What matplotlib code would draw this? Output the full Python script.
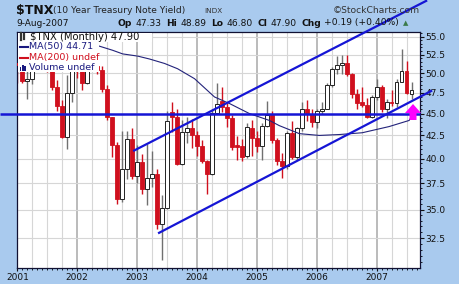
import numpy as np
import matplotlib.pyplot as plt
from matplotlib.lines import Line2D
from matplotlib.patches import Polygon, Rectangle
from matplotlib.ticker import NullFormatter

# monthly candles, Jan 2001 .. Aug 2007 ($TNX = yield x 10)
opens = [51.3, 51.1, 49.0, 49.2, 53.5, 53.8, 54.1, 50.5, 48.3, 45.9, 42.3, 47.5,
         50.5, 50.3, 48.8, 54.0, 50.9, 50.4, 48.0, 44.6, 41.4, 36.0, 38.9, 42.1,
         38.2, 39.6, 36.9, 38.0, 38.4, 33.7, 35.2, 45.2, 44.6, 39.4, 42.9, 43.3,
         42.5, 41.3, 39.7, 38.4, 45.1, 46.5, 45.8, 44.5, 41.5, 41.3, 40.3, 43.3,
         42.2, 41.3, 43.6, 44.8, 42.0, 39.8, 39.2, 42.8, 40.2, 43.3, 45.6, 44.9,
         44.0, 45.3, 45.5, 48.5, 50.5, 51.1, 51.4, 49.9, 47.4, 46.4, 46.0, 44.6,
         47.0, 48.3, 45.6, 46.4, 46.3, 48.9, 50.3, 47.33]
highs = [53.0, 51.7, 50.4, 54.2, 55.3, 54.4, 54.5, 51.7, 49.1, 46.6, 49.8, 52.6,
         51.7, 50.8, 54.5, 54.0, 52.4, 51.0, 48.5, 44.6, 41.8, 43.0, 43.0, 43.3,
         41.4, 40.5, 41.6, 40.8, 38.9, 36.4, 45.3, 46.4, 45.6, 44.3, 44.6, 44.4,
         43.0, 42.0, 39.9, 45.5, 48.7, 48.3, 46.3, 44.8, 42.4, 42.1, 43.9, 44.3,
         43.0, 43.9, 46.5, 45.3, 42.2, 40.6, 43.0, 44.1, 43.4, 46.4, 46.6, 45.5,
         45.6, 46.4, 48.8, 50.8, 52.3, 52.5, 52.5, 50.1, 48.0, 48.2, 46.9, 47.2,
         49.3, 48.5, 46.8, 47.9, 49.2, 53.3, 51.6, 48.89]
lows = [48.7, 48.7, 46.7, 48.6, 52.9, 52.2, 50.2, 47.9, 45.3, 42.2, 41.0, 46.4,
        49.4, 47.8, 48.6, 50.4, 49.9, 47.6, 44.3, 40.2, 35.5, 35.7, 37.9, 37.9,
        37.5, 36.5, 35.4, 37.1, 33.3, 30.7, 35.1, 42.9, 39.3, 39.3, 41.7, 41.1,
        40.3, 39.5, 36.5, 38.3, 45.0, 45.2, 43.5, 40.9, 39.9, 39.8, 40.1, 40.3,
        40.7, 39.9, 43.5, 41.7, 39.3, 38.0, 38.9, 40.0, 39.9, 43.0, 44.1, 43.4,
        43.3, 44.9, 45.5, 48.2, 49.9, 49.9, 49.6, 46.9, 45.6, 45.8, 44.5, 44.5,
        46.6, 45.2, 44.5, 45.9, 45.8, 48.9, 47.4, 46.80]
closes = [51.1, 49.0, 49.2, 53.5, 53.8, 54.1, 50.5, 48.3, 45.9, 42.3, 47.5, 50.5,
          50.3, 48.8, 54.0, 50.9, 50.4, 48.0, 44.6, 41.4, 36.0, 38.9, 42.1, 38.2,
          39.6, 36.9, 38.0, 38.4, 33.7, 35.2, 44.1, 44.6, 39.4, 42.9, 43.3, 42.5,
          41.3, 39.7, 38.4, 45.1, 46.2, 45.8, 44.5, 41.2, 41.2, 40.2, 43.5, 42.2,
          41.3, 43.6, 44.8, 42.0, 39.8, 39.2, 42.8, 40.2, 43.3, 45.6, 44.9, 44.0,
          45.3, 45.5, 48.5, 50.5, 51.1, 51.4, 49.9, 47.4, 46.3, 46.0, 44.6, 47.0,
          48.3, 45.6, 46.4, 46.3, 48.9, 50.3, 47.5, 47.90]

# MA(50) (month index, value)
ma_month = [14.5, 19.1, 21.1, 24.1, 26.5, 29.5, 32.1, 35.5, 39.5, 42.5, 46.5,
            50.5, 52.5, 56.5, 60.5, 64.5, 69.1, 74.5, 78.5, 79]
ma_value = [54.1, 53.1, 52.6, 52.3, 51.9, 51.3, 50.6, 49.3, 47.0, 46.2, 45.0,
            44.2, 43.6, 42.7, 42.5, 42.6, 42.8, 43.5, 44.2, 44.71]

years = ['2001', '2002', '2003', '2004', '2005', '2006', '2007']
yticks = [32.5, 35.0, 37.5, 40.0, 42.5, 45.0, 47.5, 50.0, 52.5, 55.0]

# trend lines drawn on the chart (month index, value)
upper_x, upper_y = [23.2, 82.1], [40.8, 60.5]
lower_x, lower_y = [28.2, 83.1], [32.9, 47.8]
support = 45.0

W, H = 460, 284
def fx(x): return x / W
def fy(y): return 1 - y / H

bg = '#A9CAEE'
red = '#D0101E'
blue = '#1515D5'
navy = '#1A1A80'

fig = plt.figure(figsize=(4.6, 2.84), dpi=100, facecolor=bg)
ax = fig.add_axes([fx(17), fy(268), 403 / W, 236 / H])
ax.set_facecolor('white')
ax.set_yscale('log')
ax.set_xlim(-0.06, 80.67)
ax.set_ylim(30.05, 55.7)

# grid
for q in range(0, 81, 3):
    if q % 12 == 0:
        ax.axvline(q, color='#A8A8A8', lw=1.1, zorder=0)
    else:
        ax.axvline(q, color='#D6D6D6', lw=0.8, zorder=0)
for v in yticks:
    ax.axhline(v, color='#D6D6D6', lw=0.8, zorder=0)

# candles
x = np.arange(len(closes))
o = np.array(opens); c = np.array(closes)
hi = np.array(highs); lo = np.array(lows)
down = c < o
wick_col = np.where(down, red, '#707070')
ax.vlines(x, lo, hi, colors=wick_col, lw=1.0, zorder=2)
bot = np.minimum(o, c)
ht = np.maximum(np.abs(c - o), 0.12)
ax.bar(x[down], ht[down], bottom=bot[down], width=0.72, color=red,
       edgecolor=red, lw=0.6, zorder=3)
ax.bar(x[~down], ht[~down], bottom=bot[~down], width=0.72, color='white',
       edgecolor='#222222', lw=0.7, zorder=3)

# MA(50)
ax.plot(ma_month, ma_value, color='#23237A', lw=0.8, zorder=4)

# trend lines
ax.plot(upper_x, upper_y, color=blue, lw=1.6, zorder=5, clip_on=False,
        solid_capstyle='butt')
ax.plot(lower_x, lower_y, color=blue, lw=1.6, zorder=5, clip_on=False,
        solid_capstyle='butt')
ax.plot([-3.5, 80.67], [support, support], color=blue, lw=1.8, zorder=5,
        clip_on=False, solid_capstyle='butt')

# axes styling
ax.yaxis.tick_right()
ax.set_yticks(yticks)
ax.set_yticklabels([f'{v:.1f}' for v in yticks])
ax.set_yticks(np.arange(30.5, 55.6, 0.5), minor=True)
ax.yaxis.set_minor_formatter(NullFormatter())
ax.set_xticks(np.arange(0, 73, 12))
ax.set_xticklabels(years)
ax.set_xticks(np.arange(0, 81, 1), minor=True)
ax.tick_params(axis='y', which='major', length=3, width=0.8, labelsize=6.5,
               pad=1, colors='#111111')
ax.tick_params(axis='y', which='minor', length=1.5, width=0.6)
ax.tick_params(axis='x', which='major', length=2.5, width=0.8, labelsize=6.5,
               pad=1, colors='#111111')
ax.tick_params(axis='x', which='minor', length=1.5, width=0.6)
for s in ax.spines.values():
    s.set_color('#111133')
    s.set_linewidth(0.9)

# legend block (white boxes hide what is behind)
fig.add_artist(Rectangle((fx(17.5), fy(42)), fx(152) - fx(17.5), fy(32.5) - fy(42),
                         transform=fig.transFigure, facecolor='white',
                         edgecolor='none', zorder=6))
fig.add_artist(Rectangle((fx(17.5), fy(72)), fx(99) - fx(17.5), fy(42) - fy(72),
                         transform=fig.transFigure, facecolor='white',
                         edgecolor='none', zorder=6))
lf = dict(fontsize=7.2, va='center', ha='left', zorder=8)
fig.text(fx(30), fy(37), '$TNX (Monthly) 47.90', color='#111111', **lf)
lf['fontsize'] = 6.8
fig.text(fx(29), fy(47), 'MA(50) 44.71', color=navy, **lf)
fig.text(fx(29), fy(57.5), 'MA(200) undef', color=red, **lf)
fig.text(fx(29), fy(67.5), 'Volume undef', color=navy, **lf)
fig.add_artist(Line2D([fx(20), fx(28)], [fy(47), fy(47)], color=navy,
                      lw=1.5, transform=fig.transFigure, zorder=8))
fig.add_artist(Line2D([fx(20), fx(28)], [fy(57.5), fy(57.5)], color=red,
                      lw=1.5, transform=fig.transFigure, zorder=8))
for k, hh in enumerate([4, 6, 5]):
    fig.add_artist(Rectangle((fx(20 + 2.2 * k), fy(71)), 1.4 / W, hh / H,
                             transform=fig.transFigure, facecolor=navy,
                             edgecolor='none', zorder=8))
for k, (a, b) in enumerate([(33, 40), (34, 39)]):
    fig.add_artist(Line2D([fx(21 + 3 * k), fx(21 + 3 * k)], [fy(a), fy(b)],
                          color='#333333', lw=1.6, transform=fig.transFigure,
                          zorder=8))

# header
fig.text(fx(16), fy(10.5), '$TNX', fontsize=9, fontweight='bold', va='center',
         color='#111111')
fig.text(fx(53), fy(10.5), '(10 Year Treasury Note Yield)', fontsize=6.6,
         va='center', color='#222222')
fig.text(fx(204), fy(11), 'INDX', fontsize=5.2, va='center', color='#333333')
fig.text(fx(420), fy(10.5), '\u00a9StockCharts.com', fontsize=6.6, ha='right',
         va='center', color='#333333')
fig.text(fx(16), fy(23), '9-Aug-2007', fontsize=6.5, va='center', color='#111111')

# quote line laid out piece by piece
hdr = [('Op', True), ('47.33', False), ('Hi', True), ('48.89', False),
       ('Lo', True), ('46.80', False), ('Cl', True), ('47.90', False),
       ('Chg', True), ('+0.19 (+0.40%)', False)]
r = fig.canvas.get_renderer()
px = 118.0
for s, b in hdr:
    t = fig.text(fx(px), fy(23), s, fontsize=6.6, va='center', color='#111111',
                 fontweight='bold' if b else 'normal')
    w = t.get_window_extent(renderer=r).width
    px += w + (3 if b else 5)
fig.text(fx(px - 1), fy(23), '\u25b2', fontsize=5, va='center', color='#3A7A4A')

# magenta arrow
arrow = [(413, 104), (421, 113), (416.5, 113), (416.5, 120), (409.5, 120),
         (409.5, 113), (405, 113)]
fig.add_artist(Polygon([(fx(a), fy(b)) for a, b in arrow], closed=True,
                       transform=fig.transFigure, facecolor='#FF00FF',
                       edgecolor='none', zorder=9))

fig.savefig('out.png', dpi=100, facecolor=bg)
